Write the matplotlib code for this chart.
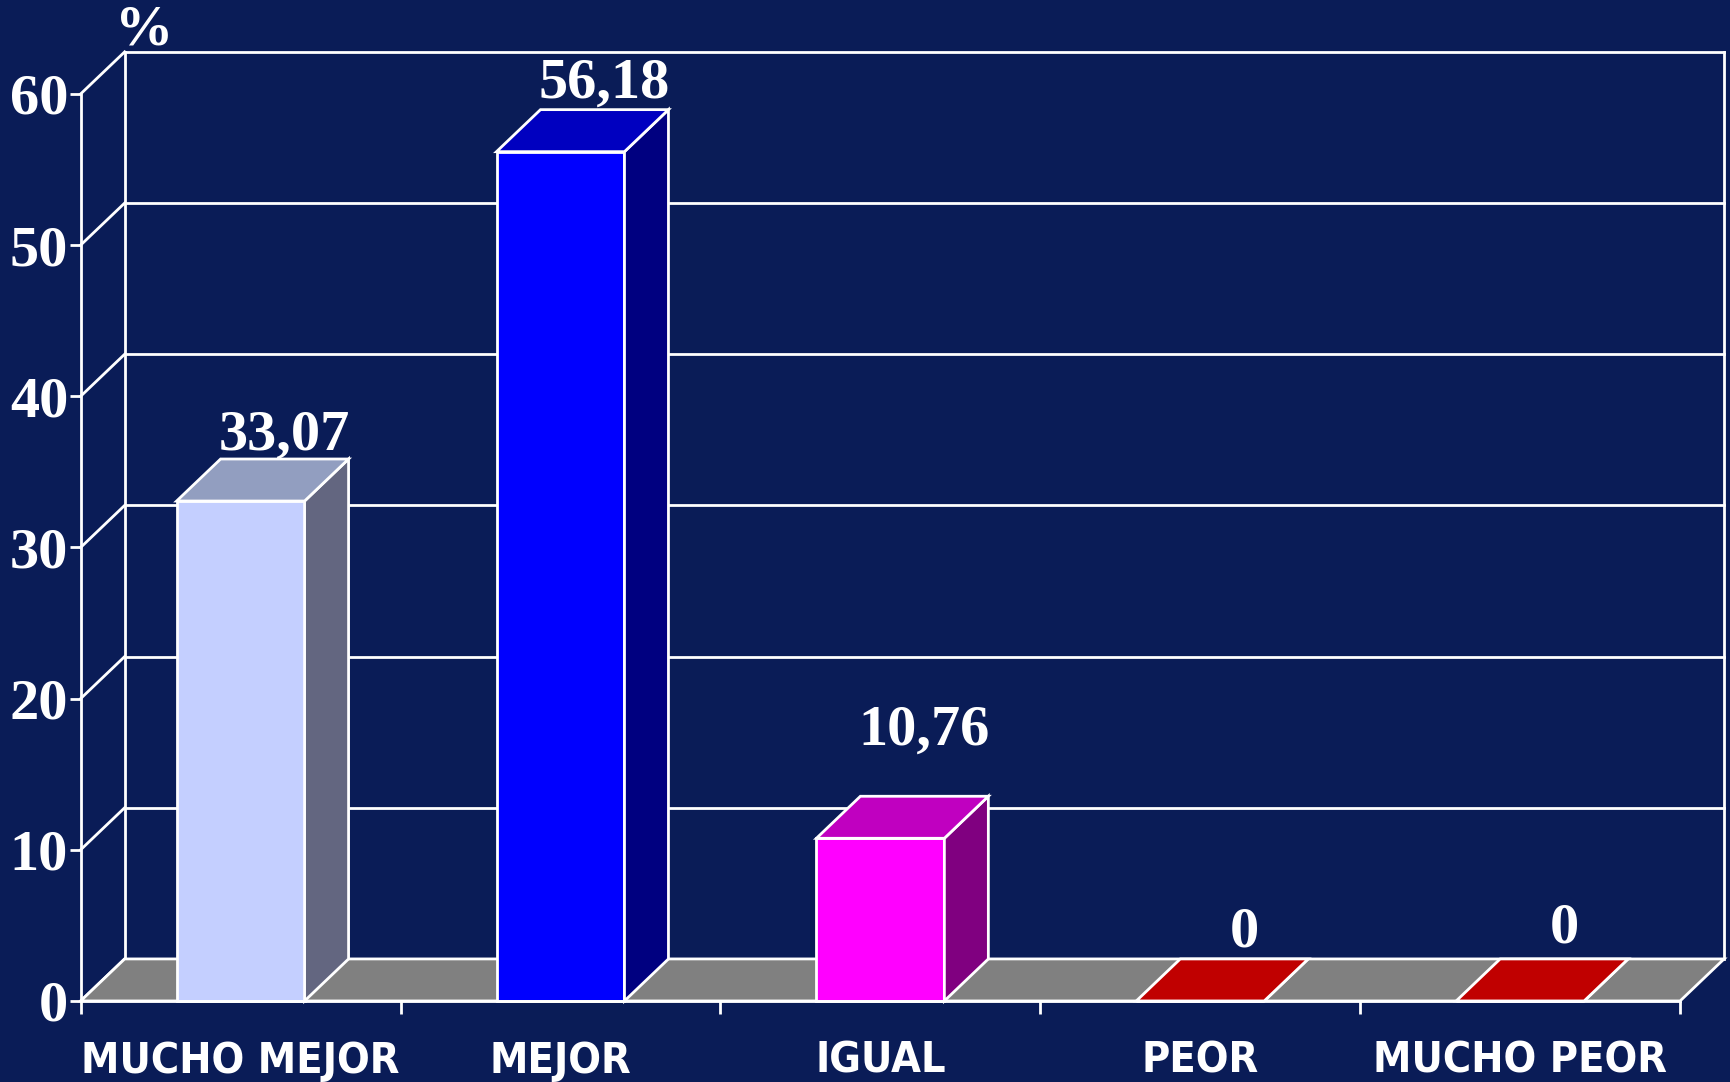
import matplotlib.pyplot as plt
from matplotlib.patches import Polygon

# data
categories = ['MUCHO MEJOR', 'MEJOR', 'IGUAL', 'PEOR', 'MUCHO PEOR']
values = [33.07, 56.18, 10.76, 0, 0]
value_labels = ['33,07', '56,18', '10,76', '0', '0']
yticks = [0, 10, 20, 30, 40, 50, 60]

# colours per bar: front face, top face, side face
front_cols = ['#C4CFFF', '#0000FF', '#FF00FF', '#C00000', '#C00000']
top_cols = ['#929EC0', '#0000C0', '#C000C0', '#C00000', '#C00000']
side_cols = ['#636680', '#000080', '#800080', '#800000', '#800000']
label_pad = [0.6, 0.8, 3.4, 0.8, 1.1]

bg = '#0A1C57'
dx, dy = 0.1375, 2.78   # depth of the fake 3d box, in data units
serif = 'Liberation Serif'

fig = plt.figure(figsize=(17.31, 10.82), dpi=100, facecolor=bg)
ax = fig.add_axes([0.0466, 0.0749, 0.9240, 0.8383])
ax.set_facecolor('none')
n = len(categories)
ax.set_xlim(0, n)
ax.set_ylim(0, 60)

# back wall + left wall lines
lw = 2
for k in yticks:
    ax.plot([0, dx], [k, k + dy], color='white', lw=lw, clip_on=False, zorder=1)
    if k > 0:
        ax.plot([dx, n + dx], [k + dy, k + dy], color='white', lw=lw, clip_on=False, zorder=1)
ax.plot([dx, dx], [dy, 60 + dy], color='white', lw=lw, clip_on=False, zorder=1)
ax.plot([n + dx, n + dx], [dy, 60 + dy], color='white', lw=lw, clip_on=False, zorder=1)

# floor
floor = Polygon([(0, 0), (n, 0), (n + dx, dy), (dx, dy)], closed=True,
                facecolor='#808080', edgecolor='white', lw=lw, clip_on=False, zorder=2)
ax.add_patch(floor)

# bars
for i, v in enumerate(values):
    x0, x1 = i + 0.3, i + 0.7
    front = Polygon([(x0, 0), (x1, 0), (x1, v), (x0, v)], closed=True,
                    facecolor=front_cols[i], edgecolor='white', lw=lw, clip_on=False, zorder=3)
    side = Polygon([(x1, 0), (x1 + dx, dy), (x1 + dx, v + dy), (x1, v)], closed=True,
                   facecolor=side_cols[i], edgecolor='white', lw=lw, clip_on=False, zorder=3)
    top = Polygon([(x0, v), (x1, v), (x1 + dx, v + dy), (x0 + dx, v + dy)], closed=True,
                  facecolor=top_cols[i], edgecolor='white', lw=lw, clip_on=False, zorder=4)
    for p in (front, side, top):
        ax.add_patch(p)
    ax.text(i + 0.5 + dx, v + dy + label_pad[i], value_labels[i], ha='center', va='baseline',
            color='white', fontsize=42, fontweight='bold', family=serif, zorder=5)

ax.text(dx + 0.06, 60 + dy + 0.5, '%', ha='center', va='baseline', color='white',
        fontsize=42, fontweight='bold', family=serif)

# axes styling
for s in ['top', 'right']:
    ax.spines[s].set_visible(False)
for s in ['left', 'bottom']:
    ax.spines[s].set_color('white')
    ax.spines[s].set_linewidth(lw)
    ax.spines[s].set_zorder(6)

ax.set_yticks(yticks)
ax.set_yticklabels([str(t) for t in yticks], family=serif, fontweight='bold', fontsize=42, color='white')
ax.tick_params(axis='y', length=8, width=2, color='white', pad=1)

ax.set_xticks(range(n + 1))
ax.set_xticklabels([])
ax.set_xticks([i + 0.5 for i in range(n)], minor=True)
ax.set_xticklabels(categories, minor=True, family='DejaVu Sans', fontstretch='condensed',
                   fontweight='bold', fontsize=31, color='white')
ax.tick_params(axis='x', which='major', length=9, width=2, color='white')
ax.tick_params(axis='x', which='minor', length=0, pad=28)

fig.savefig('out.png', dpi=100, facecolor=bg)
